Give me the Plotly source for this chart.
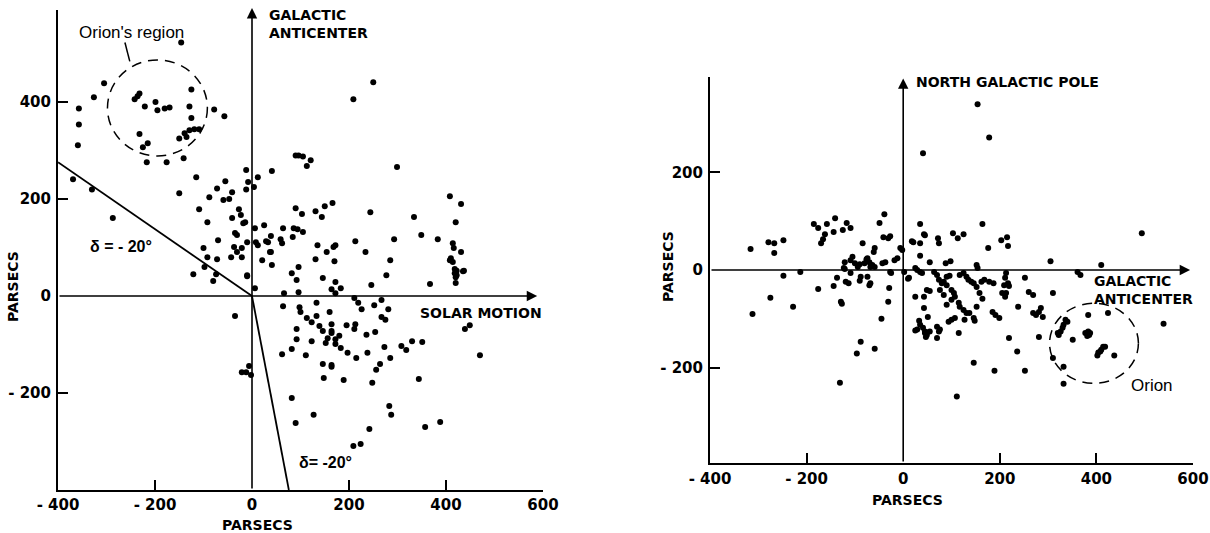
import plotly.graph_objects as go

# ---------------- data (parsecs) ----------------
# Left panel: projection on galactic plane (x = solar motion direction, y = galactic anticenter)
left_stars = [
    (-146, 523), (-305, 439), (-326, 410), (-357, 387), (-357, 354), (-359, 311),
    (-236, 412), (-242, 406), (-232, 418), (-221, 391), (-199, 400), (-195, 383), (-180, 387), (-170, 389),
    (-125, 426), (-129, 391), (-125, 367), (-78, 385), (-57, 371),
    (-232, 334), (-215, 315), (-225, 307), (-139, 336), (-129, 342), (-119, 344), (-109, 344), (-135, 328), (-150, 325),
    (-217, 276), (-176, 276), (-141, 284),
    (-369, 241), (-330, 220), (-287, 161), (-150, 212), (-115, 245),
    (-12, 260), (41, 258), (12, 245), (-8, 235), (4, 225), (-12, 220), (-88, 204), (-72, 222), (-55, 237),
    (-41, 214), (-59, 198), (-47, 200), (-109, 179), (-27, 179), (-41, 161), (-23, 167), (-18, 150), (-14, 152),
    (-92, 152), (-31, 126), (-35, 130), (-70, 115), (-10, 111), (6, 140), (25, 146), (8, 111), (29, 113), (33, 111),
    (64, 140), (86, 140), (84, 122), (62, 109), (-37, 101), (-21, 99), (-21, 80), (-43, 80), (-100, 99), (-92, 80),
    (-72, 76), (21, 74), (41, 64), (-98, 60), (-10, 43), (82, 47), (-31, 91), (39, 91), (39, 124), (-121, 45),
    (-80, 31), (6, 16), (92, 33), (96, 60), (90, 181), (-74, 45), (-10, 41),
    (250, 441), (209, 406), (90, 290), (96, 290), (105, 288), (121, 280), (113, 268), (299, 266), (408, 206),
    (431, 190), (420, 152), (103, 169), (131, 175), (144, 163), (150, 185), (166, 192), (244, 173), (334, 163),
    (349, 126), (383, 117), (293, 117), (213, 113), (234, 91), (285, 74), (277, 43), (94, 138), (105, 132),
    (59, 117), (12, 105), (37, 91), (135, 105), (154, 91), (168, 101), (172, 105), (170, 72), (131, 76), (146, 37),
    (408, 74), (414, 70), (410, 78), (414, 109), (416, 99), (431, 91), (418, 56), (422, 52), (437, 52), (418, 47),
    (420, 39), (422, 43), (435, 51), (420, 27),
    (367, 25), (246, 23), (172, 29), (164, 14), (183, 16), (172, 6), (96, 8), (66, 6),
    (64, -21), (98, -23), (100, -33), (133, -14), (160, -33), (211, -4), (219, -14), (226, -27), (252, -19),
    (267, -8), (281, -27), (267, -43), (275, -49), (113, -45), (133, -41), (123, -54), (139, -62), (146, -72),
    (164, -58), (164, -72), (164, -76), (92, -68), (92, -89), (156, -87), (172, -89), (180, -82), (152, -97),
    (172, -99), (183, -107), (195, -60), (213, -58), (211, -68), (236, -80), (254, -74), (123, -93), (82, -109),
    (62, -120), (111, -122), (197, -117), (215, -128), (238, -117), (273, -105), (285, -128), (264, -140),
    (256, -152), (146, -140), (164, -142), (164, -146), (148, -169), (189, -173), (248, -179), (308, -103),
    (318, -111), (330, -93), (351, -95), (344, -171), (439, -68), (449, -60), (470, -122), (82, -210),
    (127, -245), (90, -262), (283, -227), (287, -245), (242, -274), (224, -305), (209, -309), (357, -270),
    (388, -260),
    (-35, -41), (-21, -157), (-12, -157), (-6, -144), (-2, -163),
]

# Right panel: projection on plane through galactic pole (x = anticenter direction, y = north galactic pole)
right_stars = [
    (41, 239), (154, 339), (178, 271),
    (-316, 43), (-279, 57), (-267, 55), (-267, 35), (-248, 61), (-248, -12), (-213, -4),
    (-185, 94), (-176, 86), (-158, 94), (-141, 106), (-162, 73), (-166, 63), (-170, 55), (-144, 78), (-125, 82),
    (-117, 96), (-109, 86),
    (-49, 96), (-39, 114), (-41, 67), (-31, 65), (-27, 69), (-84, 55), (-59, 45), (-61, 37),
    (35, 94), (45, 71), (21, 57), (35, 55), (18, 59), (43, 73), (35, 29), (55, 16),
    (-2, 41), (-6, 45), (-12, 24), (-18, 20), (-37, 16), (-43, 14),
    (-121, 16), (-109, 20), (-100, 14), (-90, 12), (-74, 24), (-80, 14), (-68, 6), (-64, 10), (-59, 6),
    (-105, 27), (-123, 4), (-94, 6), (-76, 22), (-70, 16), (-121, 2),
    (-27, -4), (2, -4), (25, 4), (35, -4), (39, -6), (12, -16), (10, -18), (25, -55), (43, -55), (49, -41), (55, -43),
    (-275, -57), (-312, -90), (-228, -75), (-176, -39), (-144, -33), (-137, -16), (-129, -65), (-127, -69),
    (-119, -24), (-113, -27), (-109, -6), (-88, -14), (-74, -14), (-90, -22), (-70, -31), (-68, -27), (-29, -37),
    (-31, -65), (-45, -100), (-88, -147), (-96, -171), (-59, -161), (-131, -231), (-25, -6),
    (43, -78), (51, -96), (33, -104), (35, -112), (41, -118), (45, -126), (49, -128), (47, -137), (25, -124),
    (72, 65), (74, 55), (103, 75), (113, 65), (125, 73), (164, 94), (203, 61), (215, 67), (217, 49), (176, 45),
    (494, 75),
    (88, 14), (98, 18), (152, 10), (154, 4), (305, 18), (410, 10), (361, -4), (367, -10),
    (29, 0), (64, -4), (70, -10), (74, -20), (80, -27), (84, -24), (90, -31), (90, -14), (96, -12),
    (117, -10), (125, -6), (131, -14), (135, -20), (141, -24), (146, -27), (152, -35), (158, -47), (164, -59),
    (162, -24), (168, -20), (178, -24), (187, -27),
    (100, -41), (105, -47), (107, -55), (100, -61), (76, -41), (84, -51),
    (90, -71), (115, -67), (117, -75), (125, -82), (131, -88), (137, -88), (152, -75), (146, -98), (148, -104),
    (127, -102), (94, -106), (100, -102), (107, -98), (115, -129), (146, -190), (189, -206), (111, -259),
    (29, -122), (55, -126), (70, -116), (74, -126), (70, -139), (76, -122), (45, -129), (49, -133),
    (185, -86), (191, -92), (199, -98), (209, -31), (217, -27), (219, -33), (213, -47), (211, -16), (213, -6),
    (205, -47), (211, -55), (252, -16), (260, -45), (269, -51), (238, -75), (219, -139), (236, -167), (252, -206),
    (269, -88), (275, -92), (281, -86), (285, -78), (289, -96), (281, -137), (310, -47),
    (310, -180), (332, -198), (332, -233),
    (320, -129), (326, -126), (330, -118), (332, -112), (336, -102), (340, -106), (322, -133), (351, -143),
    (383, -92), (424, -88),
    (377, -129), (383, -126), (387, -129), (381, -135), (385, -133),
    (402, -175), (404, -169), (410, -163), (414, -157), (418, -157), (408, -167), (437, -175), (539, -110),
]

# declination delta = -20 deg boundary lines (left panel)
delta_upper_x = [-400, 0]
delta_upper_y = [276, 0]
delta_lower_x = [0, 76]
delta_lower_y = [0, -400]

x_tick_vals = [-400, -200, 0, 200, 400, 600]
x_tick_text = ["- 400", "- 200", "0", "200", "400", "600"]
left_y_tick_vals = [-200, 0, 200, 400]
left_y_tick_text = ["- 200", "0", "200", "400"]
right_y_tick_vals = [-200, 0, 200]
right_y_tick_text = ["- 200", "0", "200"]

# ---------------- figure ----------------
W, H = 1210, 533
LETTER = "DejaVu Sans"
HAND = "Liberation Sans"


def P(px, py):
    return px / W, 1 - py / H


fig = go.Figure()

lx, ly = zip(*left_stars)
rx, ry = zip(*right_stars)

fig.add_trace(go.Scatter(x=lx, y=ly, mode="markers", xaxis="x", yaxis="y",
                         marker=dict(color="black", size=6), hoverinfo="skip"))
fig.add_trace(go.Scatter(x=rx, y=ry, mode="markers", xaxis="x2", yaxis="y2",
                         marker=dict(color="black", size=6), hoverinfo="skip"))
for xs, ys in [(delta_upper_x, delta_upper_y), (delta_lower_x, delta_lower_y)]:
    fig.add_trace(go.Scatter(x=xs, y=ys, mode="lines", xaxis="x", yaxis="y",
                             line=dict(color="black", width=1.8), hoverinfo="skip"))

axis_common = dict(showline=True, linewidth=2, linecolor="black", showgrid=False, zeroline=False,
                   ticks="", tickfont=dict(family=LETTER, size=15, color="black", weight="bold"),
                   tickmode="array", automargin=False, ticklabeloverflow="allow")
minor_ticks = dict(ticks="inside", ticklen=10, tickwidth=2, tickcolor="black", showgrid=False,
                   tickmode="array")

fig.update_layout(
    width=W, height=H, margin=dict(l=0, r=0, t=0, b=0, autoexpand=False),
    paper_bgcolor="white", plot_bgcolor="white", showlegend=False,
    xaxis=dict(domain=[58 / W, 543 / W], range=[-400, 600], anchor="y",
               tickvals=x_tick_vals, ticktext=x_tick_text, ticklabelstandoff=0,
               minor=dict(tickvals=[-200, 200, 400], **minor_ticks), **axis_common),
    yaxis=dict(domain=[(H - 490) / H, (H - 10) / H], range=[-400, 590], anchor="x",
               tickvals=left_y_tick_vals, ticktext=left_y_tick_text, ticklabelstandoff=2,
               minor=dict(tickvals=[-200, 200, 400], **minor_ticks), **axis_common),
    xaxis2=dict(domain=[710 / W, 1193 / W], range=[-400, 600], anchor="y2",
                tickvals=x_tick_vals, ticktext=x_tick_text, ticklabelstandoff=1,
                minor=dict(tickvals=[-200, 200, 400], **minor_ticks), **axis_common),
    yaxis2=dict(domain=[(H - 463) / H, (H - 77) / H], range=[-395, 395], anchor="x2",
                tickvals=right_y_tick_vals, ticktext=right_y_tick_text, ticklabelstandoff=2,
                minor=dict(tickvals=[-200, 200], **minor_ticks), **axis_common),
)

# dashed circles around Orion
fig.add_shape(type="circle", xref="x", yref="y", x0=-298, x1=-92, y0=289, y1=487,
              line=dict(color="black", width=1.5, dash="10px,7px"))
fig.add_shape(type="circle", xref="x2", yref="y2", x0=303, x1=487, y0=-232, y1=-68,
              line=dict(color="black", width=1.5, dash="10px,7px"))
# leader from "Orion's region" label to circle
fig.add_shape(type="line", xref="x", yref="y", x0=-262, y0=523, x1=-252, y1=484,
              line=dict(color="black", width=1.5))


# axis arrows through origin
def arrow(xr, yr, x, y, ax, ay):
    fig.add_annotation(xref=xr, yref=yr, axref=xr, ayref=yr, x=x, y=y, ax=ax, ay=ay,
                       text="", showarrow=True, arrowhead=2, arrowsize=1.3, arrowwidth=1.6,
                       arrowcolor="black", standoff=0, startstandoff=0)


arrow("x", "y", 588, 0, -400, 0)
arrow("x", "y", 0, 594, 0, -400)
arrow("x2", "y2", 594, 0, -400, 0)
arrow("x2", "y2", 0, 392, 0, -395)


def label(text, px, py, size=14, family=LETTER, bold=True, xanchor="center", yanchor="middle",
          align="center", angle=0):
    x, y = P(px, py)
    fig.add_annotation(xref="paper", yref="paper", x=x, y=y, text=text, showarrow=False,
                       xanchor=xanchor, yanchor=yanchor, align=align, textangle=angle,
                       font=dict(family=family, size=size, color="black",
                                 weight="bold" if bold else "normal"))


# left panel texts
label("Orion's region", 131, 32, size=17, family=HAND, bold=False)
label("GALACTIC<br>ANTICENTER", 267, 24, size=14, xanchor="left", align="left")
label("SOLAR MOTION", 481, 313, size=14)
label("δ = - 20°", 121, 247, size=16, family=HAND)
label("δ= -20°", 325, 462, size=16, family=HAND)
label("PARSECS", 257, 525, size=14)
label("PARSECS", 13, 287, size=14, angle=-90)

# right panel texts
label("NORTH GALACTIC POLE", 914, 82, size=14, xanchor="left", align="left")
label("GALACTIC<br>ANTICENTER", 1092, 290, size=14, xanchor="left", align="left")
label("Orion", 1152, 385, size=17, family=HAND, bold=False)
label("PARSECS", 907, 500, size=14)
label("PARSECS", 668, 267, size=14, angle=-90)

fig.write_html("out.html", config={"displayModeBar": False},
               post_script="document.body.style.margin='0';document.body.style.overflow='hidden';")
